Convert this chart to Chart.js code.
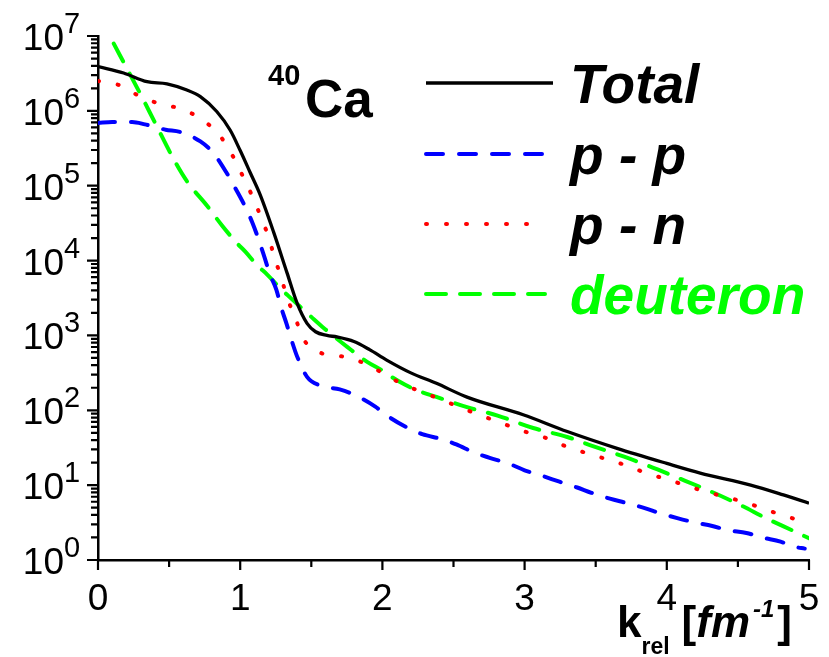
<!DOCTYPE html>
<html>
<head>
<meta charset="utf-8">
<script src="https://cdn.jsdelivr.net/npm/chart.js@4/dist/chart.umd.min.js"></script>
<style>
html,body{margin:0;padding:0;background:#fff;}
#wrap{position:relative;width:829px;height:657px;}
</style>
</head>
<body>
<div id="wrap"><canvas id="c"></canvas></div>
<script>
// ---- data ----
const totalX = [0, 0.18, 0.345, 0.485, 0.625, 0.72, 0.835, 0.93, 1.0, 1.07, 1.14, 1.235, 1.33, 1.40, 1.47, 1.53, 1.61, 1.68, 1.80, 1.91, 2.03, 2.20, 2.38, 2.595, 2.99, 3.30, 3.65, 4.00, 4.235, 4.59, 4.82, 5.0];
const totalY = [3.9e6, 3.2e6, 2.45e6, 2.3e6, 1.9e6, 1.55e6, 9.8e5, 5.5e5, 2.95e5, 1.5e5, 7.6e4, 2.4e4, 6.8e3, 2.7e3, 1.45e3, 1.12e3, 1.0e3, 955, 830, 645, 468, 316, 229, 150, 87, 52, 31, 19.5, 14.5, 10, 7.4, 5.75];

const ppX = [0, 0.10, 0.24, 0.33, 0.475, 0.58, 0.72, 0.81, 0.905, 0.965, 1.036, 1.083, 1.13, 1.17, 1.21, 1.254, 1.29, 1.325, 1.364, 1.40, 1.47, 1.563, 1.70, 1.80, 1.95, 2.04, 2.18, 2.28, 2.42, 2.52, 2.65, 2.76, 2.90, 3.00, 3.13, 3.24, 3.37, 3.47, 3.60, 3.72, 3.85, 3.955, 4.08, 4.19, 4.32, 4.43, 4.56, 4.67, 4.80, 4.90, 4.97];
const ppY = [6.9e5, 7.1e5, 7.1e5, 6.6e5, 5.6e5, 5.2e5, 3.9e5, 2.75e5, 1.48e5, 9.3e4, 5.2e4, 3.3e4, 1.9e4, 1.12e4, 6.5e3, 4.1e3, 2.3e3, 1.45e3, 830, 525, 280, 214, 190, 162, 112, 83, 58, 48, 41, 35, 27, 23, 19, 15.8, 13.2, 11.2, 9.3, 7.9, 6.6, 5.75, 4.9, 4.2, 3.6, 3.2, 2.85, 2.5, 2.3, 2.0, 1.76, 1.5, 1.42];

const pnX = [0, 0.152, 0.29, 0.44, 0.58, 0.72, 0.855, 0.95, 1.02, 1.087, 1.146, 1.20, 1.24, 1.287, 1.333, 1.39, 1.446, 1.575, 1.715, 1.857, 2.0, 2.14, 2.285, 2.43, 2.57, 2.71, 2.85, 3.00, 3.145, 3.29, 3.43, 3.57, 3.72, 3.855, 4.0, 4.14, 4.28, 4.42, 4.57, 4.71, 4.85, 5.0];
const pnY = [2.5e6, 2.2e6, 1.58e6, 1.23e6, 1.07e6, 7.9e5, 4.7e5, 2.45e5, 1.32e5, 7.1e4, 3.8e4, 2.05e4, 1.12e4, 6.0e3, 3.1e3, 1.66e3, 890, 575, 525, 437, 316, 224, 174, 135, 105, 83, 66, 52, 43, 33, 27, 22.4, 18.2, 14.5, 12, 9.8, 8.1, 6.9, 5.75, 4.6, 3.8, 3.0];

const deutX = [0, 0.14, 0.29, 0.40, 0.53, 0.625, 0.767, 0.872, 0.973, 1.036, 1.118, 1.19, 1.27, 1.333, 1.423, 1.493, 1.587, 1.657, 1.75, 1.89, 2.01, 2.07, 2.16, 2.24, 2.38, 2.595, 2.81, 3.06, 3.30, 3.485, 3.70, 3.88, 4.07, 4.28, 4.52, 4.70, 4.90, 5.0];
const deutY = [2.0e7, 6.2e6, 1.8e6, 7.0e5, 2.3e5, 1.15e5, 5.4e4, 2.95e4, 1.74e4, 1.32e4, 8.7e3, 6.5e3, 4.5e3, 3.45e3, 2.4e3, 1.82e3, 1.26e3, 980, 710, 447, 331, 275, 219, 186, 151, 110, 85, 58, 44, 33, 24, 17.8, 12.7, 8.7, 5.4, 3.6, 2.4, 1.95];

const seriesNames = ['Total', 'p - p', 'p - n', 'deuteron'];
const xTickValues = [0, 1, 2, 3, 4, 5];
const xTickLabels = ['0', '1', '2', '3', '4', '5'];
const xMinorTicks = [0.5, 1.5, 2.5, 3.5, 4.5];
const yTickValues = [1, 10, 100, 1000, 1e4, 1e5, 1e6, 1e7];
const yTickBase = '10';
const yTickExponents = ['0', '1', '2', '3', '4', '5', '6', '7'];

const FONT = '"Liberation Sans", Arial, Helvetica, sans-serif';
const pairs = (xs, ys) => xs.map((x, i) => ({x: x, y: ys[i]}));

const datasets = [
  {label: seriesNames[0], data: pairs(totalX, totalY), borderColor: '#000000', borderWidth: 3.3, borderDash: []},
  {label: seriesNames[1], data: pairs(ppX, ppY), borderColor: '#0000ff', borderWidth: 4, borderDash: [17, 16], borderCapStyle: 'round'},
  {label: seriesNames[2], data: pairs(pnX, pnY), borderColor: '#ff0000', borderWidth: 4, borderDash: [1, 19], borderCapStyle: 'round'},
  {label: seriesNames[3], data: pairs(deutX, deutY), borderColor: '#00ff00', borderWidth: 4, borderDash: [20, 14], borderCapStyle: 'round'}
].map(d => Object.assign({pointRadius: 0, fill: false, cubicInterpolationMode: 'monotone'}, d));

const textColors = ['#000000', '#000000', '#000000', '#00ff00'];

const decorPlugin = {
  id: 'decor',
  afterDraw(chart) {
    const ctx = chart.ctx;
    const xs = chart.scales.x, ys = chart.scales.y;
    const area = chart.chartArea;
    ctx.save();
    // tick marks
    ctx.strokeStyle = '#000';
    ctx.lineWidth = 2.2;
    ctx.beginPath();
    xTickValues.forEach(v => { const p = xs.getPixelForValue(v); ctx.moveTo(p, area.bottom); ctx.lineTo(p, area.bottom + 10); });
    xMinorTicks.forEach(v => { const p = xs.getPixelForValue(v); ctx.moveTo(p, area.bottom); ctx.lineTo(p, area.bottom + 7); });
    yTickValues.forEach(v => { const p = ys.getPixelForValue(v); ctx.moveTo(area.left, p); ctx.lineTo(area.left - 11, p); });
    for (let e = 0; e < 7; e++) {
      for (let k = 2; k <= 9; k++) {
        const p = ys.getPixelForValue(k * Math.pow(10, e));
        ctx.moveTo(area.left, p); ctx.lineTo(area.left - 7, p);
      }
    }
    ctx.stroke();

    // x tick labels
    ctx.fillStyle = '#000';
    ctx.textBaseline = 'alphabetic';
    ctx.font = '37px ' + FONT;
    ctx.textAlign = 'center';
    xTickValues.forEach((v, i) => {
      ctx.fillText(xTickLabels[i], xs.getPixelForValue(v), area.bottom + 50);
    });

    // y tick labels 10^n
    yTickValues.forEach((v, i) => {
      const p = ys.getPixelForValue(v);
      ctx.font = '37px ' + FONT;
      ctx.textAlign = 'right';
      ctx.fillText(yTickBase, 64, p + 14);
      ctx.font = '29px ' + FONT;
      ctx.textAlign = 'left';
      ctx.fillText(yTickExponents[i], 64, p - 3);
    });

    // legend
    const legY = [83, 154, 224, 294];
    chart.data.datasets.forEach((ds, i) => {
      ctx.save();
      ctx.strokeStyle = ds.borderColor;
      ctx.lineWidth = ds.borderWidth;
      ctx.lineCap = ds.borderCapStyle || 'butt';
      ctx.setLineDash(ds.borderDash || []);
      ctx.beginPath();
      ctx.moveTo(426, legY[i]);
      ctx.lineTo(i === 0 ? 553 : 545, legY[i]);
      ctx.stroke();
      ctx.restore();
      ctx.fillStyle = textColors[i];
      ctx.font = 'italic bold 55px ' + FONT;
      ctx.textAlign = 'left';
      ctx.textBaseline = 'alphabetic';
      ctx.fillText(ds.label, 570, legY[i] + 20);
    });

    // 40Ca label
    ctx.fillStyle = '#000';
    ctx.textAlign = 'left';
    ctx.font = 'bold 29px ' + FONT;
    ctx.fillText('40', 268, 85);
    ctx.font = 'bold 53px ' + FONT;
    ctx.fillText('Ca', 305, 117);

    // axis title  k_rel [fm^-1]
    let x = 617;
    const base = 637;
    ctx.font = 'bold 44px ' + FONT;
    ctx.fillText('k', x, base);
    x += ctx.measureText('k').width;
    ctx.font = 'bold 23px ' + FONT;
    ctx.fillText('rel', x, 654);
    x += ctx.measureText('rel').width + 12;
    ctx.font = 'bold 44px ' + FONT;
    ctx.fillText('[', x, base);
    x += ctx.measureText('[').width;
    ctx.font = 'italic bold 44px ' + FONT;
    ctx.fillText('fm', x, base);
    x += ctx.measureText('fm').width + 3;
    ctx.font = 'italic bold 24px ' + FONT;
    ctx.fillText('-1', x, 617);
    x += ctx.measureText('-1').width + 3;
    ctx.font = 'bold 44px ' + FONT;
    ctx.fillText(']', x, base);
    ctx.restore();
  }
};

new Chart(document.getElementById('c'), {
  type: 'line',
  data: {datasets: datasets},
  plugins: [decorPlugin],
  options: {
    responsive: true,
    maintainAspectRatio: false,
    animation: false,
    events: [],
    layout: {padding: {top: 36, right: 20, left: 0, bottom: 0}},
    plugins: {legend: {display: false}, tooltip: {enabled: false}, title: {display: false}},
    scales: {
      x: {
        type: 'linear', min: 0, max: 5,
        grid: {display: false},
        border: {display: true, color: '#000', width: 2.5},
        ticks: {display: false, stepSize: 1},
        afterFit(s) { s.height = 97; }
      },
      y: {
        type: 'logarithmic', min: 1, max: 1e7,
        grid: {display: false},
        border: {display: true, color: '#000', width: 2.5},
        afterBuildTicks(s) { s.ticks = yTickValues.map(v => ({value: v})); },
        ticks: {display: false},
        afterFit(s) { s.width = 98; }
      }
    }
  }
});
</script>
</body>
</html>
